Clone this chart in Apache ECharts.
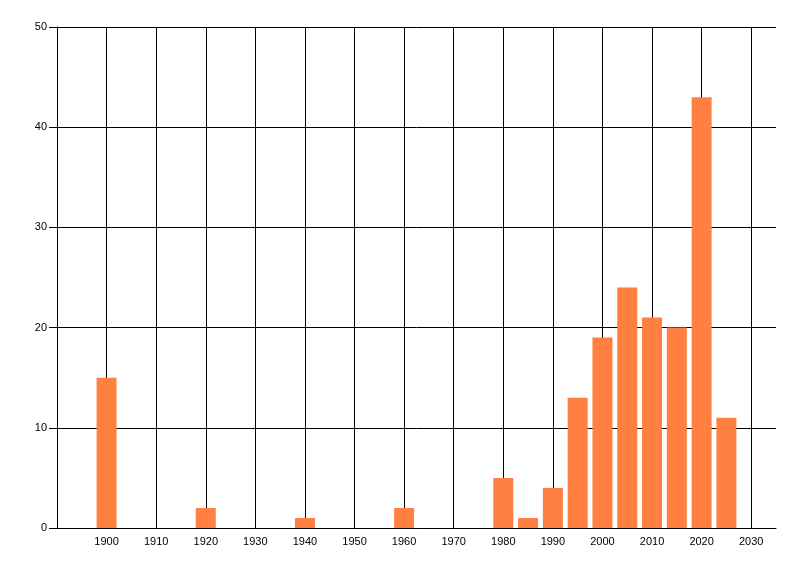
<!DOCTYPE html>
<html>
<head>
<meta charset="utf-8">
<style>
  html, body { margin: 0; padding: 0; background: #fff; }
  #main { width: 800px; height: 576px; }
</style>
<script src="https://cdn.jsdelivr.net/npm/echarts@6/dist/echarts.min.js"></script>
</head>
<body>
<div id="main"></div>
<script>
// years (bar centres) and counts
var years  = [1900, 1920, 1940, 1960, 1980, 1985, 1990, 1995, 2000, 2005, 2010, 2015, 2020, 2025];
var counts = [15,   2,    1,    2,    5,    1,    4,    13,   19,   24,   21,   20,   43,   11];

var points = [];
for (var i = 0; i < years.length; i++) {
  points.push([years[i], counts[i]]);
}

var myChart = echarts.init(document.getElementById('main'));

var textStyle = {
  color: '#000',
  fontFamily: 'Liberation Sans, Arial, sans-serif',
  fontSize: 11
};

var option = {
  animation: false,
  backgroundColor: '#fff',
  grid: {
    left: 57,
    right: 24,
    top: 27,
    bottom: 48
  },
  xAxis: {
    type: 'value',
    min: 1890,
    max: 2035,
    interval: 10,
    axisLine: { show: true, lineStyle: { color: '#000', width: 1 } },
    axisTick: { show: false },
    axisLabel: Object.assign({
      margin: 8,
      showMinLabel: false,
      formatter: function (v) {
        if (v % 10 !== 0 || v === 1890) return '';
        return String(v);
      }
    }, textStyle),
    splitLine: {
      show: true,
      showMinLine: false,
      showMaxLine: false,
      lineStyle: { color: '#000', width: 1 }
    }
  },
  yAxis: {
    type: 'value',
    min: 0,
    max: 50,
    interval: 10,
    axisLine: { show: true, lineStyle: { color: '#000', width: 1 } },
    axisTick: { show: true, length: 8, lineStyle: { color: '#000' } },
    axisLabel: Object.assign({ margin: 10 }, textStyle),
    splitLine: {
      show: true,
      lineStyle: { color: '#000', width: 1 }
    }
  },
  series: [{
    type: 'bar',
    data: points,
    barWidth: 20,
    itemStyle: { color: '#ff8040' }
  }]
};
myChart.setOption(option);
</script>
</body>
</html>
